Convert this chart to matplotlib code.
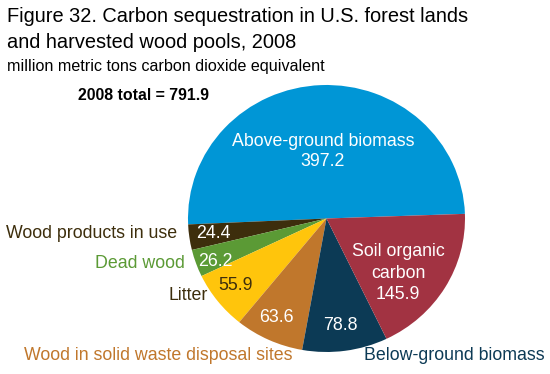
import matplotlib
matplotlib.use("Agg")
import matplotlib.pyplot as plt

# -----------------------------
# Data (million metric tons CO2 equivalent)
# -----------------------------
labels = ["Above-ground biomass", "Wood products in use", "Dead wood", "Litter",
          "Wood in solid waste disposal sites", "Below-ground biomass",
          "Soil organic carbon"]
values = [397.2, 24.4, 26.2, 55.9, 63.6, 78.8, 145.9]
colors = ["#0096d6", "#3d2e0c", "#5b9a35", "#ffc50c", "#c0772c", "#0c3a55", "#a23342"]
total = 791.9

plt.rcParams['font.family'] = ['Liberation Sans', 'DejaVu Sans']

W, H = 550, 374
fig = plt.figure(figsize=(5.5, 3.74), dpi=100)

# pie center and radii in pixels
cx, cy, rx, ry = 326.5, 218.5, 138.5, 133.5
ax = fig.add_axes([(cx - rx) / W, (H - cy - ry) / H, 2 * rx / W, 2 * ry / H])
ax.pie(values, colors=colors, startangle=2, counterclock=True,
       wedgeprops=dict(linewidth=0))
ax.set_xlim(-1, 1)
ax.set_ylim(-1, 1)
ax.set_aspect('auto')
ax.axis('off')


def px(x, y):
    # pixel coords -> figure fraction
    return x / W, 1 - y / H


# -----------------------------
# Titles
# -----------------------------
fig.text(*px(7, 17), "Figure 32. Carbon sequestration in U.S. forest lands",
         fontsize=14.4, va='center', ha='left')
fig.text(*px(7, 42), "and harvested wood pools, 2008",
         fontsize=14.4, va='center', ha='left')
fig.text(*px(7, 67), "million metric tons carbon dioxide equivalent",
         fontsize=11.6, va='center', ha='left')
fig.text(*px(78, 96), f"2008 total = {total}", fontsize=11.4,
         fontweight='bold', va='center', ha='left')

# -----------------------------
# Labels inside slices
# -----------------------------
fs = 12.8
fig.text(*px(323, 142), labels[0], color='white', fontsize=fs, ha='center', va='center')
fig.text(*px(323, 162), f"{values[0]}", color='white', fontsize=fs, ha='center', va='center')
fig.text(*px(213, 234), f"{values[1]}", color='white', fontsize=fs, ha='center', va='center')
fig.text(*px(215, 262), f"{values[2]}", color='white', fontsize=fs, ha='center', va='center')
fig.text(*px(236, 286), f"{values[3]}", color='#3d2e0c', fontsize=fs, ha='center', va='center')
fig.text(*px(276, 317), f"{values[4]}", color='white', fontsize=fs, ha='center', va='center')
fig.text(*px(340, 326), f"{values[5]}", color='white', fontsize=fs, ha='center', va='center')
fig.text(*px(398, 273), "Soil organic\ncarbon\n" + f"{values[6]}", color='white',
         fontsize=fs, ha='center', va='center', linespacing=1.35)

# -----------------------------
# Labels outside
# -----------------------------
fig.text(*px(177, 234), labels[1], color='#3d2e0c', fontsize=fs, ha='right', va='center')
fig.text(*px(185, 264), labels[2], color='#5b9a35', fontsize=fs, ha='right', va='center')
fig.text(*px(208, 296), labels[3], color='#3d2e0c', fontsize=fs, ha='right', va='center')
fig.text(*px(158, 355), labels[4], color='#c0772c', fontsize=fs, ha='center', va='center')
fig.text(*px(454, 355), labels[5], color='#0c3a55', fontsize=fs, ha='center', va='center')

fig.savefig("out.png", dpi=100)
